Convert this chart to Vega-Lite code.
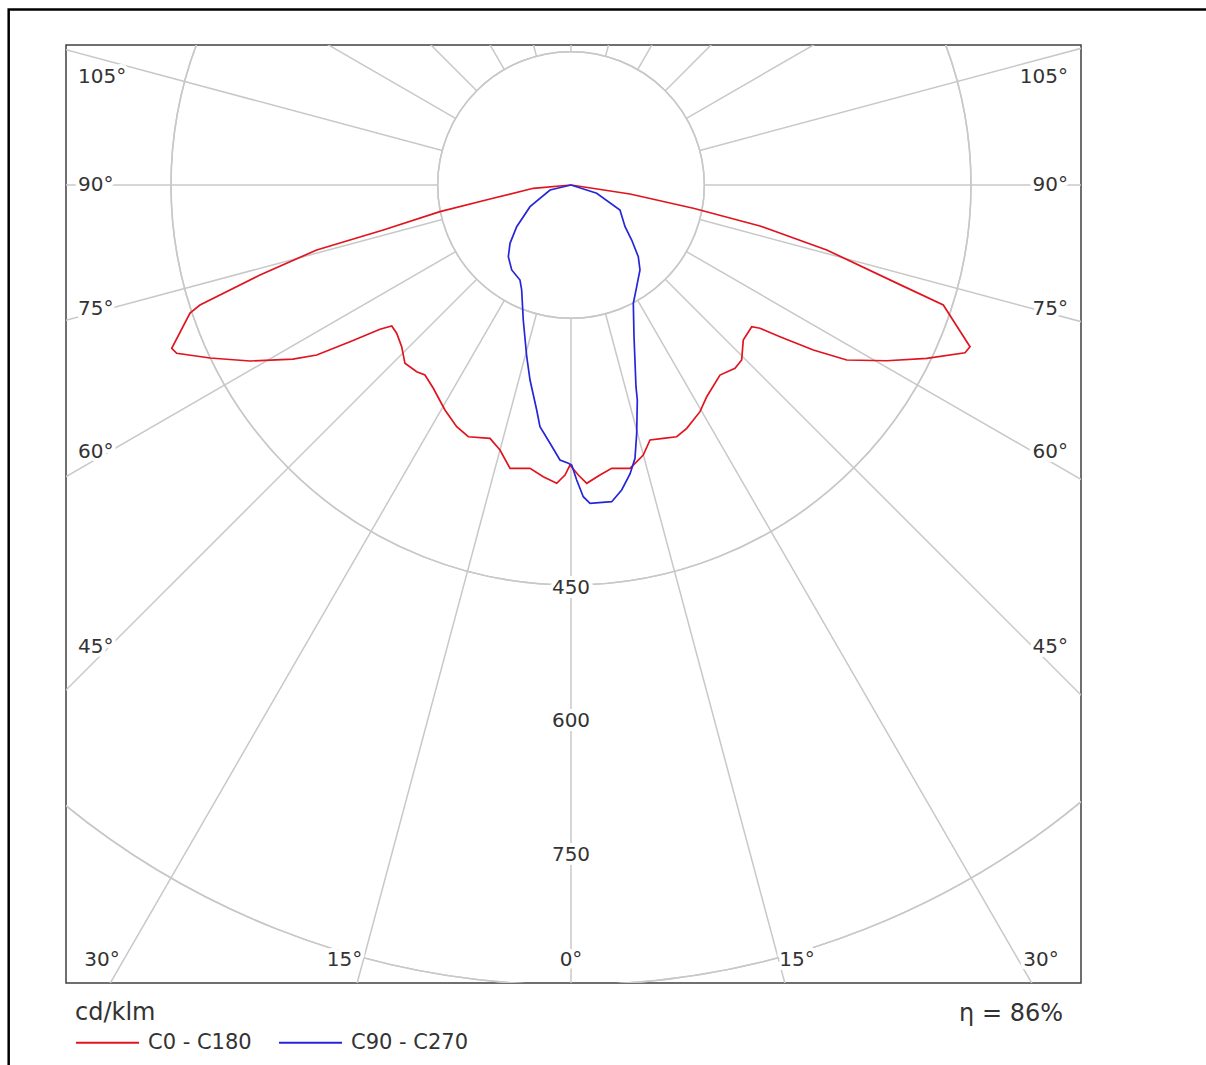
{
  "$schema": "https://vega.github.io/schema/vega-lite/v6.json",
  "width": 1015,
  "height": 938,
  "autosize": {"type": "none"},
  "padding": {"left": 66, "top": 45, "right": 125, "bottom": 82},
  "background": "white",
  "config": {
    "view": {"stroke": "#404040", "strokeWidth": 1.5},
    "font": "DejaVu Sans"
  },
  "datasets": {
    "border": [{"x": -632.6, "y": -197.4, "x2": 760, "y2": 1010}],
    "rings": [
      {"x": 0, "y": 0, "r": 150}, {"x": 0, "y": 0, "r": 300}, {"x": 0, "y": 0, "r": 450},
      {"x": 0, "y": 0, "r": 600}, {"x": 0, "y": 0, "r": 750}, {"x": 0, "y": 0, "r": 900},
      {"x": 0, "y": 0, "r": 1050}
    ],
    "spokes": [
      {"x": 0, "y": 150, "x2": 0, "y2": 1300},
      {"x": 38.82, "y": 144.89, "x2": 336.46, "y2": 1255.7},
      {"x": 75, "y": 129.9, "x2": 650, "y2": 1125.83},
      {"x": 106.07, "y": 106.07, "x2": 919.24, "y2": 919.24},
      {"x": 129.9, "y": 75, "x2": 1125.83, "y2": 650},
      {"x": 144.89, "y": 38.82, "x2": 1255.7, "y2": 336.46},
      {"x": 150, "y": 0, "x2": 1300, "y2": 0},
      {"x": 144.89, "y": -38.82, "x2": 1255.7, "y2": -336.46},
      {"x": 129.9, "y": -75, "x2": 1125.83, "y2": -650},
      {"x": 106.07, "y": -106.07, "x2": 919.24, "y2": -919.24},
      {"x": 75, "y": -129.9, "x2": 650, "y2": -1125.83},
      {"x": 38.82, "y": -144.89, "x2": 336.46, "y2": -1255.7},
      {"x": 0, "y": -150, "x2": 0, "y2": -1300},
      {"x": -38.82, "y": 144.89, "x2": -336.46, "y2": 1255.7},
      {"x": -75, "y": 129.9, "x2": -650, "y2": 1125.83},
      {"x": -106.07, "y": 106.07, "x2": -919.24, "y2": 919.24},
      {"x": -129.9, "y": 75, "x2": -1125.83, "y2": 650},
      {"x": -144.89, "y": 38.82, "x2": -1255.7, "y2": 336.46},
      {"x": -150, "y": 0, "x2": -1300, "y2": 0},
      {"x": -144.89, "y": -38.82, "x2": -1255.7, "y2": -336.46},
      {"x": -129.9, "y": -75, "x2": -1125.83, "y2": -650},
      {"x": -106.07, "y": -106.07, "x2": -919.24, "y2": -919.24},
      {"x": -75, "y": -129.9, "x2": -650, "y2": -1125.83},
      {"x": -38.82, "y": -144.89, "x2": -336.46, "y2": -1255.7}
    ],
    "leftLabels": [
      {"t": "105°", "x": -554.6, "y": -122.6},
      {"t": "90°", "x": -554.6, "y": -1.1},
      {"t": "75°", "x": -554.6, "y": 138.9},
      {"t": "60°", "x": -554.6, "y": 299.8},
      {"t": "45°", "x": -554.6, "y": 518.6}
    ],
    "rightLabels": [
      {"t": "105°", "x": 559.1, "y": -122.6},
      {"t": "90°", "x": 559.1, "y": -1.1},
      {"t": "75°", "x": 559.1, "y": 138.9},
      {"t": "60°", "x": 559.1, "y": 299.8},
      {"t": "45°", "x": 559.1, "y": 518.6}
    ],
    "centerLabels": [
      {"t": "30°", "x": -527.6, "y": 870.75},
      {"t": "15°", "x": -254.8, "y": 870.75},
      {"t": "0°", "x": 0, "y": 870.75},
      {"t": "15°", "x": 254.25, "y": 870.75},
      {"t": "30°", "x": 528.75, "y": 870.75},
      {"t": "450", "x": 0, "y": 452.25},
      {"t": "600", "x": 0, "y": 601.9},
      {"t": "750", "x": 0, "y": 752.6}
    ],
    "note": [{"t": "η = 86%", "x": 553.5, "y": 931.5}],
    "curves": [
      {"series": "C0 - C180", "i": 1, "x": 0, "y": 0},
      {"series": "C0 - C180", "i": 2, "x": -42.4, "y": 3.7},
      {"series": "C0 - C180", "i": 3, "x": -91.1, "y": 15.8},
      {"series": "C0 - C180", "i": 4, "x": -147.4, "y": 30.0},
      {"series": "C0 - C180", "i": 5, "x": -211.2, "y": 50.6},
      {"series": "C0 - C180", "i": 6, "x": -286.1, "y": 73.1},
      {"series": "C0 - C180", "i": 7, "x": -349.9, "y": 101.3},
      {"series": "C0 - C180", "i": 8, "x": -417.4, "y": 135},
      {"series": "C0 - C180", "i": 9, "x": -428.6, "y": 144},
      {"series": "C0 - C180", "i": 10, "x": -449.2, "y": 183.7},
      {"series": "C0 - C180", "i": 11, "x": -443.6, "y": 189.3},
      {"series": "C0 - C180", "i": 12, "x": -406.1, "y": 194.6},
      {"series": "C0 - C180", "i": 13, "x": -361.1, "y": 198},
      {"series": "C0 - C180", "i": 14, "x": -312.8, "y": 195.8},
      {"series": "C0 - C180", "i": 15, "x": -286.1, "y": 191.3},
      {"series": "C0 - C180", "i": 16, "x": -248.6, "y": 176.3},
      {"series": "C0 - C180", "i": 17, "x": -214.9, "y": 162.3},
      {"series": "C0 - C180", "i": 18, "x": -201.7, "y": 158.6},
      {"series": "C0 - C180", "i": 19, "x": -196.1, "y": 166.8},
      {"series": "C0 - C180", "i": 20, "x": -190.5, "y": 181.9},
      {"series": "C0 - C180", "i": 21, "x": -186.8, "y": 200.6},
      {"series": "C0 - C180", "i": 22, "x": -173.6, "y": 210},
      {"series": "C0 - C180", "i": 23, "x": -164.3, "y": 213.8},
      {"series": "C0 - C180", "i": 24, "x": -154.9, "y": 228.7},
      {"series": "C0 - C180", "i": 25, "x": -141.8, "y": 253.1},
      {"series": "C0 - C180", "i": 26, "x": -128.6, "y": 271.9},
      {"series": "C0 - C180", "i": 27, "x": -115.5, "y": 283.2},
      {"series": "C0 - C180", "i": 28, "x": -91.1, "y": 285},
      {"series": "C0 - C180", "i": 29, "x": -79.9, "y": 298.1},
      {"series": "C0 - C180", "i": 30, "x": -68.6, "y": 318.7},
      {"series": "C0 - C180", "i": 31, "x": -46.1, "y": 318.7},
      {"series": "C0 - C180", "i": 32, "x": -31.2, "y": 328.2},
      {"series": "C0 - C180", "i": 33, "x": -16.1, "y": 335.6},
      {"series": "C0 - C180", "i": 34, "x": -6.75, "y": 326.3},
      {"series": "C0 - C180", "i": 35, "x": -1.1, "y": 315},
      {"series": "C0 - C180", "i": 36, "x": 8.2, "y": 326.3},
      {"series": "C0 - C180", "i": 37, "x": 17.7, "y": 335.6},
      {"series": "C0 - C180", "i": 38, "x": 32.6, "y": 326.3},
      {"series": "C0 - C180", "i": 39, "x": 45.8, "y": 318.7},
      {"series": "C0 - C180", "i": 40, "x": 66.4, "y": 318.7},
      {"series": "C0 - C180", "i": 41, "x": 81.3, "y": 303.8},
      {"series": "C0 - C180", "i": 42, "x": 88.9, "y": 286.9},
      {"series": "C0 - C180", "i": 43, "x": 103.8, "y": 285},
      {"series": "C0 - C180", "i": 44, "x": 118.9, "y": 283.2},
      {"series": "C0 - C180", "i": 45, "x": 130.2, "y": 273.7},
      {"series": "C0 - C180", "i": 46, "x": 145.1, "y": 255},
      {"series": "C0 - C180", "i": 47, "x": 152.7, "y": 238.2},
      {"series": "C0 - C180", "i": 48, "x": 167.6, "y": 213.8},
      {"series": "C0 - C180", "i": 49, "x": 184.5, "y": 206.2},
      {"series": "C0 - C180", "i": 50, "x": 192.0, "y": 196.9},
      {"series": "C0 - C180", "i": 51, "x": 193.8, "y": 174.4},
      {"series": "C0 - C180", "i": 52, "x": 203.3, "y": 159.4},
      {"series": "C0 - C180", "i": 53, "x": 212.6, "y": 161.2},
      {"series": "C0 - C180", "i": 54, "x": 235.1, "y": 170.7},
      {"series": "C0 - C180", "i": 55, "x": 272.6, "y": 185.6},
      {"series": "C0 - C180", "i": 56, "x": 310.2, "y": 196.9},
      {"series": "C0 - C180", "i": 57, "x": 355.2, "y": 197.7},
      {"series": "C0 - C180", "i": 58, "x": 400.2, "y": 195},
      {"series": "C0 - C180", "i": 59, "x": 443.3, "y": 188.7},
      {"series": "C0 - C180", "i": 60, "x": 448.9, "y": 181.9},
      {"series": "C0 - C180", "i": 61, "x": 418.8, "y": 135},
      {"series": "C0 - C180", "i": 62, "x": 370.1, "y": 112.1},
      {"series": "C0 - C180", "i": 63, "x": 287.7, "y": 73.1},
      {"series": "C0 - C180", "i": 64, "x": 212.6, "y": 46.1},
      {"series": "C0 - C180", "i": 65, "x": 137.6, "y": 26.2},
      {"series": "C0 - C180", "i": 66, "x": 66.4, "y": 10.1},
      {"series": "C0 - C180", "i": 67, "x": 0, "y": 0},
      {"series": "C90 - C270", "i": 1, "x": 0, "y": 0},
      {"series": "C90 - C270", "i": 2, "x": -23.6, "y": 5.6},
      {"series": "C90 - C270", "i": 3, "x": -46.1, "y": 24.4},
      {"series": "C90 - C270", "i": 4, "x": -61.1, "y": 46.9},
      {"series": "C90 - C270", "i": 5, "x": -68.6, "y": 65.6},
      {"series": "C90 - C270", "i": 6, "x": -70.5, "y": 80.7},
      {"series": "C90 - C270", "i": 7, "x": -66.7, "y": 95.6},
      {"series": "C90 - C270", "i": 8, "x": -57.4, "y": 106.9},
      {"series": "C90 - C270", "i": 9, "x": -55.5, "y": 118.1},
      {"series": "C90 - C270", "i": 10, "x": -53.7, "y": 151.9},
      {"series": "C90 - C270", "i": 11, "x": -49.8, "y": 193.2},
      {"series": "C90 - C270", "i": 12, "x": -46.1, "y": 219.4},
      {"series": "C90 - C270", "i": 13, "x": -38.6, "y": 253.1},
      {"series": "C90 - C270", "i": 14, "x": -34.9, "y": 271.9},
      {"series": "C90 - C270", "i": 15, "x": -23.6, "y": 290.6},
      {"series": "C90 - C270", "i": 16, "x": -12.4, "y": 309.4},
      {"series": "C90 - C270", "i": 17, "x": -3.0, "y": 313.1},
      {"series": "C90 - C270", "i": 18, "x": 0.8, "y": 315},
      {"series": "C90 - C270", "i": 19, "x": 6.4, "y": 331.9},
      {"series": "C90 - C270", "i": 20, "x": 13.8, "y": 350.7},
      {"series": "C90 - C270", "i": 21, "x": 21.4, "y": 358.1},
      {"series": "C90 - C270", "i": 22, "x": 45.8, "y": 356.3},
      {"series": "C90 - C270", "i": 23, "x": 57.0, "y": 343.1},
      {"series": "C90 - C270", "i": 24, "x": 66.4, "y": 325.1},
      {"series": "C90 - C270", "i": 25, "x": 72.0, "y": 307.5},
      {"series": "C90 - C270", "i": 26, "x": 73.9, "y": 279.3},
      {"series": "C90 - C270", "i": 27, "x": 74.6, "y": 241.9},
      {"series": "C90 - C270", "i": 28, "x": 73.1, "y": 226.9},
      {"series": "C90 - C270", "i": 29, "x": 70.9, "y": 170.7},
      {"series": "C90 - C270", "i": 30, "x": 70.1, "y": 133.1},
      {"series": "C90 - C270", "i": 31, "x": 73.9, "y": 114.4},
      {"series": "C90 - C270", "i": 32, "x": 77.6, "y": 95.6},
      {"series": "C90 - C270", "i": 33, "x": 75.7, "y": 80.7},
      {"series": "C90 - C270", "i": 34, "x": 68.3, "y": 61.9},
      {"series": "C90 - C270", "i": 35, "x": 60.8, "y": 46.9},
      {"series": "C90 - C270", "i": 36, "x": 55.1, "y": 28.1},
      {"series": "C90 - C270", "i": 37, "x": 28.9, "y": 9.3},
      {"series": "C90 - C270", "i": 38, "x": 0, "y": 0}
    ]
  },
  "encoding": {
    "x": {"field": "x", "type": "quantitative", "axis": null,
          "scale": {"domain": [-568.125, 573.75], "nice": false, "zero": false}},
    "y": {"field": "y", "type": "quantitative", "axis": null,
          "scale": {"domain": [-157.5, 897.75], "nice": false, "zero": false, "reverse": true}}
  },
  "layer": [
    {
      "data": {"name": "border"},
      "mark": {"type": "rect", "fill": null, "fillOpacity": 0, "stroke": "#000000", "strokeWidth": 2.5, "clip": false},
      "encoding": {"x2": {"field": "x2"}, "y2": {"field": "y2"}}
    },
    {
      "data": {"name": "rings"},
      "mark": {"type": "arc", "theta": 0, "theta2": 6.2832, "filled": false, "stroke": "#c8c8c8", "strokeWidth": 1.5, "clip": true},
      "encoding": {
        "radius": {"field": "r", "type": "quantitative", "scale": {"type": "linear", "domain": [0, 1050], "range": [0, 933.33], "zero": true}}
      }
    },
    {
      "data": {"name": "spokes"},
      "mark": {"type": "rule", "stroke": "#c8c8c8", "strokeWidth": 1.5, "clip": true},
      "encoding": {"x2": {"field": "x2"}, "y2": {"field": "y2"}}
    },
    {
      "data": {"name": "leftLabels"},
      "mark": {"type": "text", "align": "left", "baseline": "middle", "fontSize": 20, "fill": "white", "stroke": "white", "strokeWidth": 8, "strokeJoin": "round", "dy": 1},
      "encoding": {"text": {"field": "t"}}
    },
    {
      "data": {"name": "leftLabels"},
      "mark": {"type": "text", "align": "left", "baseline": "middle", "fontSize": 20, "fill": "#333333", "dy": 1},
      "encoding": {"text": {"field": "t"}}
    },
    {
      "data": {"name": "rightLabels"},
      "mark": {"type": "text", "align": "right", "baseline": "middle", "fontSize": 20, "fill": "white", "stroke": "white", "strokeWidth": 8, "strokeJoin": "round", "dy": 1},
      "encoding": {"text": {"field": "t"}}
    },
    {
      "data": {"name": "rightLabels"},
      "mark": {"type": "text", "align": "right", "baseline": "middle", "fontSize": 20, "fill": "#333333", "dy": 1},
      "encoding": {"text": {"field": "t"}}
    },
    {
      "data": {"name": "centerLabels"},
      "mark": {"type": "text", "align": "center", "baseline": "middle", "fontSize": 20, "fill": "white", "stroke": "white", "strokeWidth": 8, "strokeJoin": "round", "dy": 1},
      "encoding": {"text": {"field": "t"}}
    },
    {
      "data": {"name": "centerLabels"},
      "mark": {"type": "text", "align": "center", "baseline": "middle", "fontSize": 20, "fill": "#333333", "dy": 1},
      "encoding": {"text": {"field": "t"}}
    },
    {
      "data": {"name": "note"},
      "mark": {"type": "text", "align": "right", "baseline": "middle", "fontSize": 24, "fill": "#333333", "clip": false, "dy": 1},
      "encoding": {"text": {"field": "t"}}
    },
    {
      "data": {"name": "curves"},
      "mark": {"type": "line", "strokeWidth": 1.7, "clip": true},
      "encoding": {
        "order": {"field": "i", "type": "quantitative"},
        "color": {
          "field": "series", "type": "nominal",
          "scale": {"domain": ["C0 - C180", "C90 - C270"], "range": ["#e0141e", "#2626d9"]},
          "legend": {
            "title": "cd/klm", "orient": "none", "legendX": 9, "legendY": 956,
            "direction": "horizontal", "symbolType": "stroke", "symbolSize": 3969,
            "symbolStrokeWidth": 2, "titleFontSize": 24, "titleFontWeight": "normal",
            "titleColor": "#333333", "titleFont": "DejaVu Sans", "labelFont": "DejaVu Sans",
            "labelFontSize": 21, "labelColor": "#333333", "labelOffset": 8,
            "columnPadding": 23, "titlePadding": -15, "padding": 0
          }
        }
      }
    }
  ]
}
